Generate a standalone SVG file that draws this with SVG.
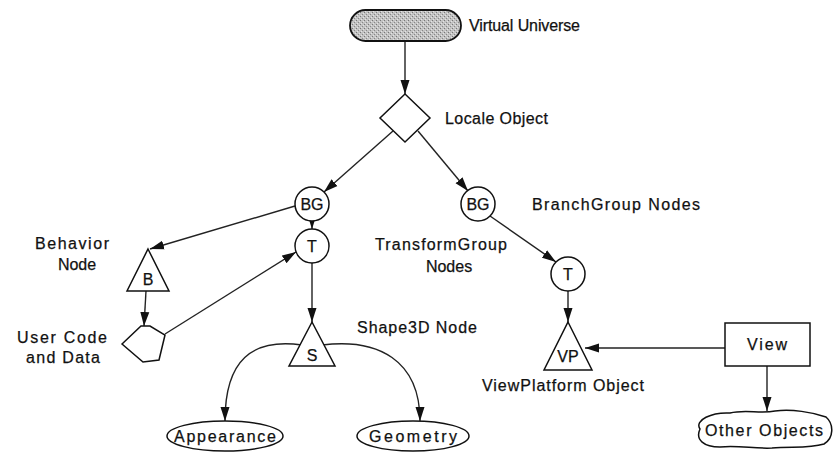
<svg xmlns="http://www.w3.org/2000/svg" width="833" height="457" viewBox="0 0 833 457">
  <defs>
    <marker id="arrow" markerUnits="userSpaceOnUse" markerWidth="14" markerHeight="10" refX="14" refY="5" orient="auto">
      <path d="M0,0.5 L14,5 L0,9.5 z" fill="#111"/>
    </marker>
    <pattern id="grain" width="4" height="4" patternUnits="userSpaceOnUse">
      <rect width="4" height="4" fill="#c2c2c2"/>
      <rect x="0" y="0" width="1" height="1" fill="#777"/>
      <rect x="2" y="2" width="1" height="1" fill="#888"/>
      <rect x="3" y="1" width="1" height="1" fill="#e4e4e4"/>
      <rect x="1" y="3" width="1" height="1" fill="#e4e4e4"/>
    </pattern>
  </defs>
  <style>
    .shape { fill: #fff; stroke: #111; stroke-width: 1.5; }
    .edge { fill: none; stroke: #222; stroke-width: 1.4; marker-end: url(#arrow); }
    .lbl { font-family: "Liberation Sans", Arial, sans-serif; font-size: 16px; fill: #111; stroke: #111; stroke-width: 0.25; }
    .mid { text-anchor: middle; }
  </style>
  <rect width="833" height="457" fill="#fff"/>

  <g id="edges">
    <line class="edge" x1="405" y1="41" x2="405" y2="94"/>
    <line class="edge" x1="393" y1="131" x2="324" y2="192"/>
    <line class="edge" x1="418" y1="131" x2="468" y2="191"/>
    <line class="edge" x1="295" y1="206" x2="150" y2="249"/>
    <line class="edge" x1="312" y1="221" x2="312" y2="229"/>
    <line class="edge" x1="146" y1="291" x2="144" y2="326"/>
    <line class="edge" x1="165" y1="334" x2="296" y2="252"/>
    <line class="edge" x1="312" y1="263" x2="312" y2="322"/>
    <line class="edge" x1="490" y1="216" x2="556" y2="262"/>
    <line class="edge" x1="568" y1="291" x2="568" y2="322"/>
    <line class="edge" x1="725" y1="348" x2="585" y2="348"/>
    <line class="edge" x1="767" y1="366" x2="767" y2="411"/>
    <path class="edge" d="M302,345 C252,338 225,360 225,421"/>
    <path class="edge" d="M322,345 C378,338 420,360 420,421"/>
  </g>

  <g id="virtual-universe">
    <rect x="350" y="10" width="111" height="31" rx="15.5" fill="url(#grain)" stroke="#111" stroke-width="1.8"/>
    <text class="lbl" x="469" y="31" textLength="111">Virtual Universe</text>
  </g>

  <g id="locale">
    <polygon class="shape" points="405,94 430,118 405,142 380,118"/>
    <text class="lbl" x="445" y="124" textLength="103">Locale Object</text>
  </g>

  <g id="bg-left">
    <circle class="shape" cx="312" cy="204" r="17"/>
    <text class="lbl mid" x="312" y="210">BG</text>
  </g>

  <g id="bg-right">
    <circle class="shape" cx="478" cy="204" r="17"/>
    <text class="lbl mid" x="478" y="210">BG</text>
    <text class="lbl" x="532" y="210" textLength="168">BranchGroup Nodes</text>
  </g>

  <g id="behavior">
    <polygon class="shape" points="148,249 169,291 127,291"/>
    <text class="lbl mid" x="148" y="285">B</text>
    <text class="lbl mid" x="72" y="249" textLength="74">Behavior</text>
    <text class="lbl mid" x="77" y="270">Node</text>
  </g>

  <g id="user-code">
    <polygon class="shape" points="122,344 141,326 150,326 165,335 159,360 143,362"/>
    <text class="lbl mid" x="62" y="343" textLength="90">User Code</text>
    <text class="lbl mid" x="63" y="363" textLength="74">and Data</text>
  </g>

  <g id="tg-left">
    <circle class="shape" cx="312" cy="246" r="17"/>
    <text class="lbl mid" x="312" y="252">T</text>
  </g>

  <g id="tg-label">
    <text class="lbl mid" x="441" y="250" textLength="132">TransformGroup</text>
    <text class="lbl mid" x="449" y="272">Nodes</text>
  </g>

  <g id="tg-right">
    <circle class="shape" cx="568" cy="274" r="17"/>
    <text class="lbl mid" x="568" y="280">T</text>
  </g>

  <g id="shape3d">
    <polygon class="shape" points="312,322 335,366 289,366"/>
    <text class="lbl mid" x="312" y="361">S</text>
    <text class="lbl" x="357" y="333" textLength="120">Shape3D Node</text>
  </g>

  <g id="view-platform">
    <polygon class="shape" points="568,322 592,370 544,370"/>
    <text class="lbl mid" x="568" y="362">VP</text>
    <text class="lbl" x="482" y="391" textLength="162">ViewPlatform Object</text>
  </g>

  <g id="view">
    <rect class="shape" x="725" y="323" width="85" height="43"/>
    <text class="lbl mid" x="767" y="350" textLength="40">View</text>
  </g>

  <g id="other-objects">
    <path class="shape" d="M700,429 C694,420 712,412 730,413 C745,409 760,414 775,411 C792,409 812,412 826,417 C834,424 834,438 824,444 C808,449 790,446 772,448 C755,449 738,445 720,447 C704,447 695,440 700,429 z"/>
    <text class="lbl mid" x="764" y="436" textLength="118">Other Objects</text>
  </g>

  <g id="appearance">
    <ellipse class="shape" cx="225" cy="436" rx="58" ry="15"/>
    <text class="lbl mid" x="225" y="442" textLength="102">Appearance</text>
  </g>

  <g id="geometry">
    <ellipse class="shape" cx="413" cy="436" rx="56" ry="15"/>
    <text class="lbl mid" x="413" y="442" textLength="88">Geometry</text>
  </g>
</svg>
